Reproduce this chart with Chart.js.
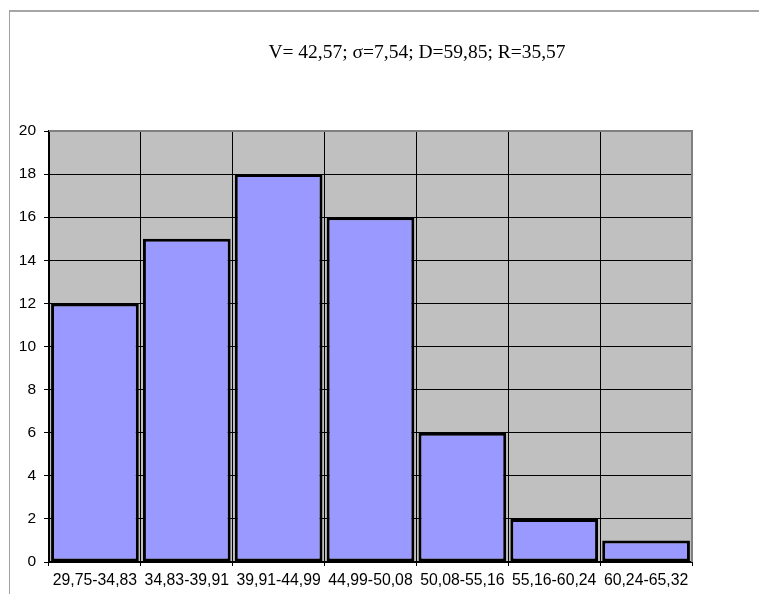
<!DOCTYPE html>
<html>
<head>
<meta charset="utf-8">
<script src="https://cdn.jsdelivr.net/npm/chart.js@4/dist/chart.umd.min.js"></script>
<style>
  html, body { margin: 0; padding: 0; background: #ffffff; }
  #wrap { position: relative; width: 759px; height: 594px; overflow: hidden; }
  #frame { position: absolute; left: 9px; top: 10px; width: 800px; height: 640px;
           border-top: 2px solid #a6a6a6; border-left: 1px solid #a0a0a0; box-sizing: border-box; }
  #c { position: absolute; left: 0; top: 0; }
</style>
</head>
<body>
<div id="wrap">
  <div id="frame"></div>
  <canvas id="c" width="759" height="594"></canvas>
</div>
<script>
// Interval classes and their frequencies
const categories = ['29,75-34,83', '34,83-39,91', '39,91-44,99', '44,99-50,08', '50,08-55,16', '55,16-60,24', '60,24-65,32'];
const frequencies = [12, 15, 18, 16, 6, 2, 1];
const yTicks = [0, 2, 4, 6, 8, 10, 12, 14, 16, 18, 20];
const summaryText = 'V= 42,57; \u03c3=7,54; D=59,85; R=35,57';

// Grey plot background, plus grey top/right edge of the plot box
const plotFrame = {
  id: 'plotFrame',
  beforeDraw(chart) {
    const { ctx, chartArea: a } = chart;
    ctx.save();
    ctx.fillStyle = '#c0c0c0';
    ctx.fillRect(a.left, a.top, a.right - a.left, a.bottom - a.top);
    ctx.restore();
  },
  afterDraw(chart) {
    const { ctx, chartArea: a } = chart;
    ctx.save();
    ctx.strokeStyle = '#808080';
    ctx.lineWidth = 2;
    ctx.beginPath();
    ctx.moveTo(a.left, a.top);
    ctx.lineTo(a.right, a.top);
    ctx.lineTo(a.right, a.bottom);
    ctx.stroke();
    // summary line above the plot
    ctx.fillStyle = '#000000';
    ctx.font = '19.5px "Liberation Serif", "Times New Roman", serif';
    ctx.textAlign = 'center';
    ctx.textBaseline = 'alphabetic';
    ctx.fillText(summaryText, 417, 58);
    ctx.restore();
  }
};

new Chart(document.getElementById('c'), {
  type: 'bar',
  data: {
    labels: categories,
    datasets: [{
      data: frequencies,
      backgroundColor: '#9999ff',
      borderColor: '#000000',
      borderWidth: 3,
      borderSkipped: false,
      barPercentage: 0.955,
      categoryPercentage: 1.0
    }]
  },
  options: {
    responsive: false,
    animation: false,
    devicePixelRatio: 1,
    layout: { padding: { left: 0, top: 131, right: 67, bottom: 0 } },
    plugins: {
      legend: { display: false },
      title: { display: false },
      tooltip: { enabled: false }
    },
    scales: {
      x: {
        offset: true,
        grid: { offset: true, color: '#000000', lineWidth: 1, tickLength: 4, tickColor: '#000000' },
        border: { color: '#000000', width: 2 },
        ticks: {
          color: '#000000', padding: 5, maxRotation: 0, autoSkip: false,
          font: { family: '"Liberation Sans", Arial, sans-serif', size: 15.8 }
        },
        afterFit(s) { s.height = 32; }
      },
      y: {
        min: 0, max: 20,
        afterBuildTicks(s) { s.ticks = yTicks.map(v => ({ value: v })); },
        grid: { color: '#000000', lineWidth: 1, tickLength: 5, tickColor: '#000000' },
        border: { color: '#000000', width: 2 },
        ticks: {
          color: '#000000', padding: 8,
          font: { family: '"Liberation Sans", Arial, sans-serif', size: 15.5 }
        },
        afterFit(s) { s.width = 49; }
      }
    }
  },
  plugins: [plotFrame]
});
</script>
</body>
</html>
